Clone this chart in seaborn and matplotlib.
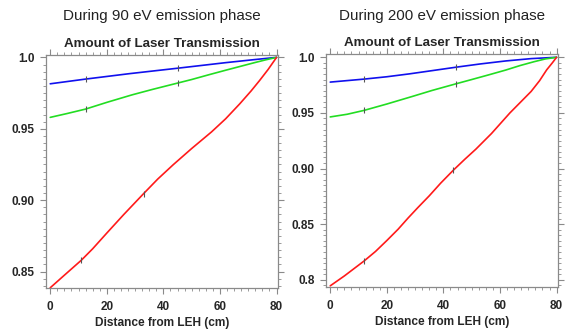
import numpy as np
import pandas as pd
import matplotlib
matplotlib.use("Agg")
import matplotlib.pyplot as plt
import seaborn as sns
from matplotlib.ticker import MultipleLocator

# Left panel: 90 eV emission phase
x_blue_90 = [0, 12.5, 28, 45, 62, 72, 80]
y_blue_90 = [0.9815, 0.9848, 0.9886, 0.9924, 0.9963, 0.9984, 1.0]
x_green_90 = [0, 6, 12.5, 20, 29, 36, 45, 50, 56, 62, 67, 72, 76, 80]
y_green_90 = [0.958, 0.9607, 0.9638, 0.9685, 0.9738, 0.9775, 0.982, 0.9845,
              0.9878, 0.991, 0.9936, 0.9962, 0.9982, 1.0]
x_red_90 = [0, 5, 11, 15, 20, 26, 33, 38, 43.5, 50, 57, 62, 67, 71, 74, 77, 80]
y_red_90 = [0.8387, 0.8475, 0.858, 0.866, 0.877, 0.890, 0.9046, 0.9148,
            0.9249, 0.9362, 0.9478, 0.957, 0.9675, 0.9765, 0.9838, 0.9915, 1.0]

# Right panel: 200 eV emission phase
x_blue_200 = [0, 12, 20, 28, 36, 44.5, 53, 62, 71, 80]
y_blue_200 = [0.9777, 0.9804, 0.9825, 0.9851, 0.988, 0.9911, 0.994, 0.9967,
              0.9988, 1.0]
x_green_200 = [0, 6, 12, 20, 29, 36, 44.5, 50, 56, 62, 67, 72, 76, 80]
y_green_200 = [0.9464, 0.9488, 0.9523, 0.958, 0.9648, 0.9702, 0.9762, 0.9800,
               0.9842, 0.9885, 0.9925, 0.996, 0.9985, 1.0]
x_red_200 = [0, 5, 12, 16, 20, 24, 27.5, 31, 35, 39, 43.5, 47.5, 51.5, 57,
             63.5, 67, 71, 74, 76.5, 78.5, 80]
y_red_200 = [0.7946, 0.8035, 0.817, 0.8255, 0.8353, 0.8455, 0.8555, 0.865,
             0.8755, 0.8868, 0.8985, 0.9082, 0.9175, 0.9315, 0.95, 0.959, 0.9693,
             0.979, 0.9887, 0.995, 1.0]

titles = ["During 90 eV emission phase", "During 200 eV emission phase"]
subtitle = "Amount of Laser Transmission"
xlabel = "Distance from LEH (cm)"
xticks = [0, 20, 40, 60, 80]
yticks_90 = [0.85, 0.90, 0.95, 1.0]
ylabels_90 = ["0.85", "0.90", "0.95", "1.0"]
yticks_200 = [0.8, 0.85, 0.90, 0.95, 1.0]
ylabels_200 = ["0.8", "0.85", "0.90", "0.95", "1.0"]

sns.set_style("white")
plt.rcParams["font.family"] = ["Liberation Sans", "DejaVu Sans"]

fig = plt.figure(figsize=(5.65, 3.33), dpi=100)
ax1 = fig.add_axes([0.0814, 0.135, 0.4106, 0.70])
ax2 = fig.add_axes([0.577, 0.138, 0.4106, 0.70])

frame_col = "#8a8a8a"


def draw_panel(ax, series, ylim, yticks, ylabels, title):
    for xs, ys, col, marks in series:
        sns.lineplot(x=xs, y=ys, ax=ax, color=col, linewidth=1.2,
                     marker="|", markevery=marks, markersize=4,
                     markeredgecolor="#555555", markeredgewidth=0.8)
    ax.set_xlim(-1.5, 80.5)
    ax.set_ylim(*ylim)
    ax.set_xticks(xticks)
    ax.set_xticklabels([str(t) for t in xticks], fontweight="bold", fontsize=8.5)
    ax.set_yticks(yticks)
    ax.set_yticklabels(ylabels, fontweight="bold", fontsize=8.5)
    ax.xaxis.set_minor_locator(MultipleLocator(2.5))
    ax.yaxis.set_minor_locator(MultipleLocator(0.005))
    ax.tick_params(which="both", direction="out", top=True, right=True,
                   bottom=True, left=True,
                   color=frame_col, labeltop=False, labelright=False)
    ax.tick_params(which="major", length=4, width=0.8)
    ax.tick_params(axis="x", which="major", pad=5)
    ax.tick_params(axis="y", which="major", pad=4)
    ax.tick_params(which="minor", length=2.5, width=0.6)
    for sp in ax.spines.values():
        sp.set_color(frame_col)
        sp.set_linewidth(0.9)
    ax.set_xlabel(xlabel, fontweight="bold", fontsize=8.6, labelpad=3)
    ax.set_ylabel("")
    ax.set_title(subtitle, fontweight="bold", fontsize=9.6, pad=6)
    pos = ax.get_position()
    fig.text((pos.x0 + pos.x1) / 2, 0.951, title, ha="center",
             va="center", fontsize=10.9, color="#222222")


draw_panel(ax1,
           [(x_blue_90, y_blue_90, "#1010ee", [1, 3]),
            (x_green_90, y_green_90, "#22dd22", [2, 6]),
            (x_red_90, y_red_90, "#ff1a1a", [2, 6])],
           (0.8385, 1.0017), yticks_90, ylabels_90, titles[0])
draw_panel(ax2,
           [(x_blue_200, y_blue_200, "#1010ee", [1, 5]),
            (x_green_200, y_green_200, "#22dd22", [2, 6]),
            (x_red_200, y_red_200, "#ff1a1a", [2, 10])],
           (0.7935, 1.003), yticks_200, ylabels_200, titles[1])

fig.savefig("out.png", dpi=100)
